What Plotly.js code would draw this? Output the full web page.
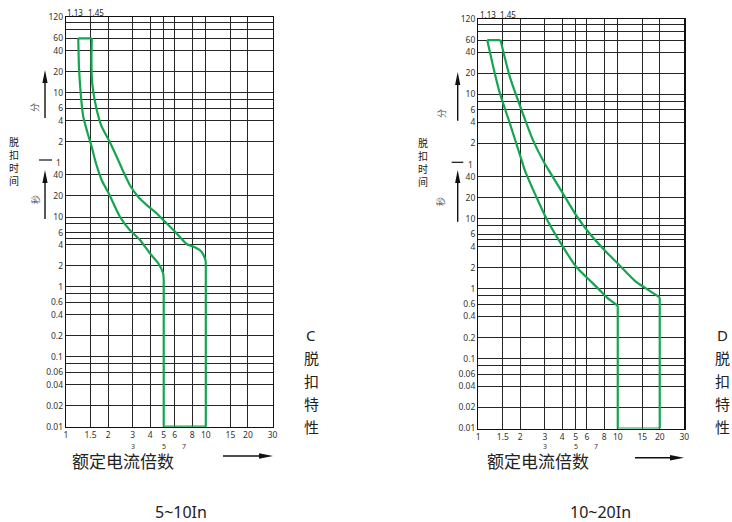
<!DOCTYPE html>
<html>
<head>
<meta charset="utf-8">
<script src="https://cdn.plot.ly/plotly-3.0.1.min.js"></script>
<style>html,body{margin:0;padding:0;background:#fff;}#chart{width:732px;height:522px;}</style>
</head>
<body>
<div id="chart"></div>
<script>
// ---- data ----
const xTickVals = [1, 1.5, 2, 3, 4, 5, 6, 8, 10, 15, 20, 30];
const xTickText = ['1', '1.5', '2', '3', '4', '5', '6', '8', '10', '15', '20', '30'];
const xSubLabels = ['3', '5', '7'];
const xSubVals = [3, 5, 7];
const topLabels = ['1.13', '1.45'];
// y values in seconds (upper part labelled in minutes)
const yTickVals = [7200, 6000, 4800, 3600, 2400, 1200, 600, 480, 360, 240, 120, 40, 20, 10, 8, 6, 5, 4, 2, 1, 0.8, 0.6, 0.4, 0.2, 0.1, 0.08, 0.06, 0.04, 0.02, 0.01];
const yTickText = ['120', '', '', '60', '40', '20', '10', '', '6', '4', '2', '40', '20', '10', '', '6', '', '4', '2', '1', '', '0.6', '0.4', '0.2', '0.1', '', '0.06', '0.04', '0.02', '0.01'];
const minuteOneVal = 60, minuteOneText = '1';

// C curve (5~10In)
const cMinX = [1.224, 1.238, 1.274, 1.329, 1.429, 1.526, 1.638, 1.799, 2.03, 2.43, 2.86, 3.38, 3.98, 4.57, 4.95, 5, 5];
const cMinY = [3600, 1415, 589, 272, 158, 101, 58.7, 33.9, 21.4, 10.1, 6.5, 4.7, 3.03, 2.18, 1.57, 1.26, 0.01];
const cMaxX = [1.53, 1.52, 1.54, 1.64, 1.80, 2.04, 2.36, 2.54, 2.86, 3.28, 3.77, 4.44, 5.24, 6.18, 7.28, 8.35, 9.32, 9.95, 10, 10];
const cMaxY = [3600, 1764, 819, 379, 196, 122, 65.5, 47, 28.7, 19.5, 14.9, 11.3, 8.14, 5.85, 4.11, 3.69, 3.19, 2.43, 2.09, 0.01];
// D curve (10~20In)
const dMinX = [1.159, 1.279, 1.427, 1.681, 2.04, 2.15, 2.60, 3.07, 4.03, 5.01, 6.58, 7.35, 8.42, 10, 10];
const dMinY = [3600, 1500, 626, 233, 69.9, 50.2, 20.8, 10.2, 4.02, 2.08, 1.21, 0.97, 0.737, 0.57, 0.01];
const dMaxX = [1.443, 1.681, 2.04, 2.46, 2.98, 3.19, 4.03, 5.01, 6.24, 8.20, 10.2, 13.4, 15.8, 20, 20];
const dMaxY = [3600, 1080, 361, 134.5, 62.6, 50, 23.3, 11.4, 6.26, 3.41, 2.20, 1.27, 1.02, 0.75, 0.01];

// ---- helpers ----
const W = 732, H = 522;
const P = x => x / W;
const Q = y => 1 - y / H;
const GREEN = '#13a64f';
const FONT = "'Noto Sans', 'Noto Sans CJK SC', sans-serif";

function seg(x, y, xa, ya, spline) {
  return {x: x, y: y, xaxis: xa, yaxis: ya, mode: 'lines', hoverinfo: 'skip',
    line: {color: GREEN, width: 2.2, shape: spline ? 'spline' : 'linear', smoothing: 0.6}};
}
// curved part as spline, final vertical drop as a straight segment, plus top & bottom bars
function band(minX, minY, maxX, maxY, xa, ya) {
  const n1 = minX.length - 1, n2 = maxX.length - 1;
  return [
    seg(minX.slice(0, n1), minY.slice(0, n1), xa, ya, true),
    seg(minX.slice(n1 - 1), minY.slice(n1 - 1), xa, ya, false),
    seg(maxX.slice(0, n2), maxY.slice(0, n2), xa, ya, true),
    seg(maxX.slice(n2 - 1), maxY.slice(n2 - 1), xa, ya, false),
    seg([minX[0], maxX[0]], [minY[0], maxY[0]], xa, ya, false),
    seg([minX[n1], maxX[n2]], [minY[n1], maxY[n2]], xa, ya, false)
  ];
}

const traces = [
  ...band(cMinX, cMinY, cMaxX, cMaxY, 'x', 'y'),
  ...band(dMinX, dMinY, dMaxX, dMaxY, 'x2', 'y2')
];

function xAxis(l, r, anchor) {
  return {type: 'log', domain: [P(l), P(r)], range: [0, Math.log10(30)], anchor: anchor,
    tickmode: 'array', tickvals: xTickVals, ticktext: xTickText,
    showgrid: true, gridcolor: '#262626', gridwidth: 1,
    showline: true, mirror: true, linecolor: '#111', linewidth: 1.3,
    ticks: '', zeroline: false, fixedrange: true,
    tickfont: {size: 8.5, color: '#333', family: FONT}};
}
function yAxis(t, b, anchor) {
  return {type: 'log', domain: [Q(b), Q(t)], range: [-2, Math.log10(7200)], anchor: anchor,
    tickmode: 'array', tickvals: yTickVals, ticktext: yTickText,
    showgrid: true, gridcolor: '#262626', gridwidth: 1,
    showline: true, mirror: true, linecolor: '#111', linewidth: 1.3,
    ticks: '', zeroline: false, fixedrange: true,
    tickfont: {size: 8.5, color: '#333', family: FONT}};
}

const ann = [];
const shapes = [];
function txt(text, x, y, size, extra) {
  ann.push(Object.assign({text: text, xref: 'paper', yref: 'paper', x: P(x), y: Q(y),
    showarrow: false, xanchor: 'center', yanchor: 'middle',
    font: {size: size, color: '#222', family: FONT}}, extra || {}));
}
function upArrow(x, tip, bottom) {
  shapes.push({type: 'line', xref: 'paper', yref: 'paper', x0: P(x), x1: P(x), y0: Q(bottom), y1: Q(tip + 10),
    line: {color: '#111', width: 1.4}});
  shapes.push({type: 'path', xref: 'paper', yref: 'paper',
    path: `M ${P(x)} ${Q(tip)} L ${P(x - 2.6)} ${Q(tip + 13)} L ${P(x + 2.6)} ${Q(tip + 13)} Z`,
    fillcolor: '#111', line: {width: 0}});
}
function rightArrow(x0, tip, y) {
  shapes.push({type: 'line', xref: 'paper', yref: 'paper', x0: P(x0), x1: P(tip - 10), y0: Q(y), y1: Q(y),
    line: {color: '#111', width: 1.6}});
  shapes.push({type: 'path', xref: 'paper', yref: 'paper',
    path: `M ${P(tip)} ${Q(y)} L ${P(tip - 14)} ${Q(y - 2.8)} L ${P(tip - 14)} ${Q(y + 2.8)} Z`,
    fillcolor: '#111', line: {width: 0}});
}
function hline(x0, x1, y) {
  shapes.push({type: 'line', xref: 'paper', yref: 'paper', x0: P(x0), x1: P(x1), y0: Q(y), y1: Q(y),
    line: {color: '#111', width: 1.2}});
}

function decorate(o) {
  txt(topLabels[0], o.t1, o.ty, 8);
  txt(topLabels[1], o.t2, o.ty, 8);
  // minute "1"
  ann.push({text: minuteOneText, xref: 'paper', yref: o.ya, x: P(o.left - 3), y: Math.log10(minuteOneVal),
    showarrow: false, xanchor: 'right', yanchor: 'middle', font: {size: 8.5, color: '#333', family: FONT}});
  // second-row labels under x ticks
  xSubLabels.forEach((s, i) => {
    ann.push({text: s, xref: o.xa, yref: 'paper', x: Math.log10(xSubVals[i]), y: Q(o.subY),
      showarrow: false, xanchor: 'center', yanchor: 'middle', height: 7,
      font: {size: 7, color: '#333', family: FONT}});
  });
  txt('脱<br>扣<br>时<br>间', o.lblX, o.lblY, 10);
  txt('分', o.rotX, o.fenY, 9, {textangle: -90, font: {size: 9, color: '#555', family: FONT}});
  txt('秒', o.rotX, o.miaoY, 9, {textangle: -90, font: {size: 9, color: '#555', family: FONT}});
  upArrow(o.arrX, o.a1tip, o.a1bot);
  upArrow(o.arrX, o.a2tip, o.a2bot);
  hline(o.dash0, o.dash1, o.dashY);
  txt('额定电流倍数', o.xtX, o.xtY, 17, {height: 19});
  rightArrow(o.ra0, o.ra1, o.raY);
  o.side.forEach((s, i) => txt(s, o.sideX, o.sideY[i], 15));
  txt(o.range, o.rangeX, 512, 16);
}

decorate({t1: 75, t2: 95.5, ty: 12.7, ya: 'y', xa: 'x', left: 66, subY: 446,
  lblX: 13.5, lblY: 162, rotX: 35, fenY: 108, miaoY: 200,
  arrX: 45, a1tip: 70, a1bot: 118, a2tip: 170, a2bot: 219,
  dash0: 39, dash1: 52, dashY: 160,
  xtX: 122.5, xtY: 461, ra0: 223, ra1: 273, raY: 456,
  side: ['C', '脱', '扣', '特', '性'], sideX: 311, sideY: [335, 358, 381, 404, 427],
  range: '5~10In', rangeX: 181});
decorate({t1: 487.5, t2: 508, ty: 14, ya: 'y2', xa: 'x2', left: 478.3, subY: 446,
  lblX: 423, lblY: 163, rotX: 441, fenY: 113, miaoY: 201,
  arrX: 457.7, a1tip: 72, a1bot: 120.7, a2tip: 170, a2bot: 221.7,
  dash0: 451.7, dash1: 463.3, dashY: 162.3,
  xtX: 538, xtY: 461.5, ra0: 635, ra1: 684, raY: 457.7,
  side: ['D', '脱', '扣', '特', '性'], sideX: 722, sideY: [335, 358, 381, 404, 427],
  range: '10~20In', rangeX: 600});

const layout = {
  width: W, height: H, margin: {l: 0, r: 0, t: 0, b: 0},
  paper_bgcolor: '#fff', plot_bgcolor: '#fff',
  showlegend: false, hovermode: false,
  font: {family: FONT, color: '#222'},
  xaxis: xAxis(66, 272.5, 'y'),
  yaxis: yAxis(17.3, 426.7, 'x'),
  xaxis2: xAxis(478.3, 684.3, 'y2'),
  yaxis2: yAxis(19, 428.5, 'x2'),
  annotations: ann,
  shapes: shapes
};

Plotly.newPlot('chart', traces, layout, {displayModeBar: false, staticPlot: true});
</script>
</body>
</html>
